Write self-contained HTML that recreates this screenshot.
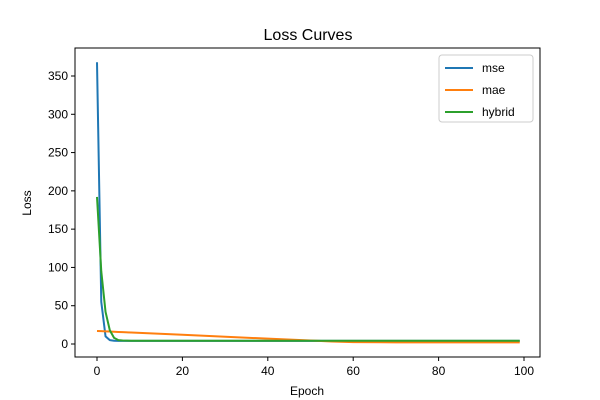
<!DOCTYPE html>
<html><head><meta charset="utf-8"><style>
body{margin:0;background:#fff}
svg{display:block;font-family:"Liberation Sans",sans-serif}
</style></head><body>
<svg id="c" width="600" height="400"></svg>
<script>
const epochs=[0,1,2,3,4,5,6,8,10,20,40,50,55,60,70,80,99];
const mseVals=[368,55,10,5,4.3,4.1,4,4,4,4,4,4,4,4,4,4,4];
const maeVals=[17,16.75,16.5,16.25,16,15.75,15.5,15,14.5,12,7,4.5,3.3,2.4,2.2,2.2,2.2];
const hybridVals=[192,95,42,18,8,5,4.5,4.3,4.2,4.2,4.2,4.2,4.2,4.2,4.2,4.2,4.2];
const xTicks=[0,20,40,60,80,100];
const yTicks=[0,50,100,150,200,250,300,350];
const seriesNames=["mse","mae","hybrid"];
const colors=["#1f77b4","#ff7f0e","#2ca02c"];
const L=75,R=540,T=48,B=357;
const xs=v=>97+(v)*(524-97)/100;
const ys=v=>344-v*(344-76)/350;
const svg=document.getElementById('c');
const NS="http://www.w3.org/2000/svg";
function mk(tag,attrs,parent){const e=document.createElementNS(NS,tag);for(const k in attrs)e.setAttribute(k,attrs[k]);(parent||svg).appendChild(e);return e;}
const title=mk('text',{x:308,y:40,'text-anchor':'middle','font-size':16,fill:'#000'});title.textContent="Loss Curves";


const series=[mseVals,maeVals,hybridVals];
series.forEach((vals,i)=>{
  const p=mk('polyline',{points:epochs.map((e,j)=>xs(e)+','+ys(vals[j])).join(' '),fill:'none',stroke:colors[i],'stroke-width':2,'stroke-linejoin':'round'});
  
  
});
const frame=mk('rect',{x:L,y:T,width:R-L,height:B-T,fill:'none',stroke:'#000','stroke-width':1});


xTicks.forEach(t=>{
  const x=xs(t);
  mk('line',{x1:x,x2:x,y1:B,y2:B+4,stroke:'#000'});
  const tx=mk('text',{x:x,y:B+18,'text-anchor':'middle','font-size':12});tx.textContent=t;
  
  
});
yTicks.forEach(t=>{
  const y=ys(t);
  mk('line',{x1:L-4,x2:L,y1:y,y2:y,stroke:'#000'});
  const tx=mk('text',{x:L-7,y:y+4,'text-anchor':'end','font-size':12});tx.textContent=t;
  
  
});
const xl=mk('text',{x:307,y:395,'text-anchor':'middle','font-size':12});xl.textContent="Epoch";


const yl=mk('text',{x:31,y:203,'text-anchor':'middle','font-size':12,transform:'rotate(-90 31 203)'});yl.textContent="Loss";


const lg=mk('g',{});


mk('rect',{x:439,y:55,width:94,height:67,rx:3,fill:'#fff',stroke:'#ccc'},lg);
seriesNames.forEach((n,i)=>{
  const y=68+i*22;
  const ln=mk('line',{x1:445,x2:473,y1:y,y2:y,stroke:colors[i],'stroke-width':2},lg);
  
  
  const t=mk('text',{x:482,y:y+4,'font-size':12},lg);t.textContent=n;
  
  
});
</script>
</body></html>
